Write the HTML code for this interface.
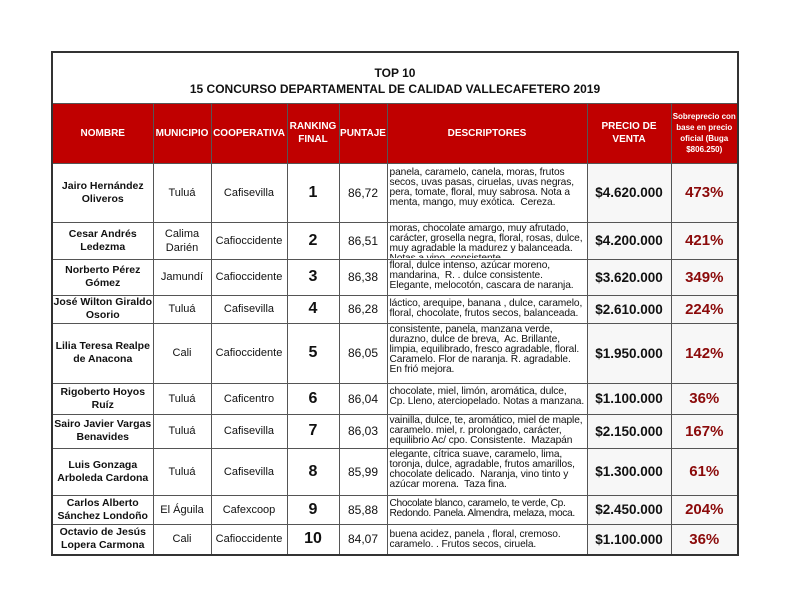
<!DOCTYPE html>
<html><head><meta charset="utf-8"><style>
body{margin:0;background:#fff;width:792px;height:612px;position:relative;font-family:"Liberation Sans",Arial,sans-serif}
table{position:absolute;left:51px;top:51px;border-collapse:collapse;table-layout:fixed;border:2px solid #333}
td{border:1px solid #555;padding:0;text-align:center;vertical-align:middle;overflow:hidden;font-size:11px;font-weight:bold;color:#111}
tr.h td{background:#c00000;color:#fff;font-size:10px;line-height:13px}
td.title{font-size:12px;line-height:16px;border-bottom:1px solid #555;padding-top:6px}
td.n{font-size:10.5px;line-height:13px}
td.m,td.c{font-weight:normal;font-size:11px;line-height:14px}
td.r{font-size:16px}
td.p{font-weight:normal;font-size:12px}
td.d{text-align:left;vertical-align:top;font-weight:normal}
td.d div{box-sizing:border-box;font-size:10.2px;line-height:10px;overflow:hidden;padding:1px 2px;color:#111;letter-spacing:-0.1px}
td.v{font-size:13.5px;background:#f7f7f7}
td.s{font-size:15px;color:#8b0a0a;background:#f7f7f7}
</style></head><body>
<table>
<colgroup><col style="width:101px"><col style="width:58px"><col style="width:76px"><col style="width:52px"><col style="width:48px"><col style="width:200px"><col style="width:84px"><col style="width:67px"></colgroup>
<tr style="height:51px"><td colspan="8" class="title">TOP 10<br>15 CONCURSO DEPARTAMENTAL DE CALIDAD VALLECAFETERO 2019</td></tr>
<tr class="h" style="height:60px"><td>NOMBRE</td><td>MUNICIPIO</td><td>COOPERATIVA</td><td>RANKING<br>FINAL</td><td>PUNTAJE</td><td>DESCRIPTORES</td><td>PRECIO DE<br>VENTA</td><td style="font-size:8px;line-height:11px">Sobreprecio con base en precio oficial (Buga $806.250)</td></tr>
<tr style="height:59px"><td class="n">Jairo Hernández Oliveros</td><td class="m">Tuluá</td><td class="c">Cafisevilla</td><td class="r">1</td><td class="p">86,72</td><td class="d"><div style="height:56px;padding-top:4px">panela, caramelo, canela, moras, frutos secos, uvas pasas, ciruelas, uvas negras, pera, tomate, floral, muy sabrosa. Nota a menta, mango, muy exótica.&nbsp; Cereza.</div></td><td class="v">$4.620.000</td><td class="s">473%</td></tr>
<tr style="height:37px"><td class="n">Cesar Andrés Ledezma</td><td class="m">Calima Darién</td><td class="c">Cafioccidente</td><td class="r">2</td><td class="p">86,51</td><td class="d"><div style="height:35px">moras, chocolate amargo, muy afrutado, carácter, grosella negra, floral, rosas, dulce, muy agradable la madurez y balanceada. Notas a vino, consistente.</div></td><td class="v">$4.200.000</td><td class="s">421%</td></tr>
<tr style="height:36px"><td class="n">Norberto Pérez Gómez</td><td class="m">Jamundí</td><td class="c">Cafioccidente</td><td class="r">3</td><td class="p">86,38</td><td class="d"><div style="height:33px">floral, dulce intenso, azúcar moreno, mandarina,&nbsp; R. . dulce consistente. Elegante, melocotón, cascara de naranja.</div></td><td class="v">$3.620.000</td><td class="s">349%</td></tr>
<tr style="height:28px"><td class="n">José Wilton Giraldo Osorio</td><td class="m">Tuluá</td><td class="c">Cafisevilla</td><td class="r">4</td><td class="p">86,28</td><td class="d"><div style="height:25px;padding-top:3px">láctico, arequipe, banana , dulce, caramelo, floral, chocolate, frutos secos, balanceada.</div></td><td class="v">$2.610.000</td><td class="s">224%</td></tr>
<tr style="height:60px"><td class="n">Lilia Teresa Realpe de Anacona</td><td class="m">Cali</td><td class="c">Cafioccidente</td><td class="r">5</td><td class="p">86,05</td><td class="d"><div style="height:57px">consistente, panela, manzana verde, durazno, dulce de breva,&nbsp; Ac. Brillante, limpia, equilibrado, fresco agradable, floral. Caramelo. Flor de naranja. R. agradable. En frió mejora.</div></td><td class="v">$1.950.000</td><td class="s">142%</td></tr>
<tr style="height:31px"><td class="n">Rigoberto Hoyos Ruíz</td><td class="m">Tuluá</td><td class="c">Caficentro</td><td class="r">6</td><td class="p">86,04</td><td class="d"><div style="height:28px;padding-top:3px">chocolate, miel, limón, aromática, dulce, Cp. Lleno, aterciopelado. Notas a manzana.</div></td><td class="v">$1.100.000</td><td class="s">36%</td></tr>
<tr style="height:34px"><td class="n">Sairo Javier Vargas Benavides</td><td class="m">Tuluá</td><td class="c">Cafisevilla</td><td class="r">7</td><td class="p">86,03</td><td class="d"><div style="height:31px">vainilla, dulce, te, aromático, miel de maple, caramelo. miel, r. prolongado, carácter, equilibrio Ac/ cpo. Consistente.&nbsp; Mazapán</div></td><td class="v">$2.150.000</td><td class="s">167%</td></tr>
<tr style="height:47px"><td class="n">Luis Gonzaga Arboleda Cardona</td><td class="m">Tuluá</td><td class="c">Cafisevilla</td><td class="r">8</td><td class="p">85,99</td><td class="d"><div style="height:44px">elegante, cítrica suave, caramelo, lima, toronja, dulce, agradable, frutos amarillos, chocolate delicado.&nbsp; Naranja, vino tinto y azúcar morena.&nbsp; Taza fina.</div></td><td class="v">$1.300.000</td><td class="s">61%</td></tr>
<tr style="height:29px"><td class="n">Carlos Alberto Sánchez Londoño</td><td class="m">El Águila</td><td class="c">Cafexcoop</td><td class="r">9</td><td class="p">85,88</td><td class="d"><div style="height:26px;padding-top:3px;letter-spacing:-0.35px">Chocolate blanco, caramelo, te verde, Cp. Redondo. Panela. Almendra, melaza, moca.</div></td><td class="v">$2.450.000</td><td class="s">204%</td></tr>
<tr style="height:31px"><td class="n">Octavio de Jesús Lopera Carmona</td><td class="m">Cali</td><td class="c">Cafioccidente</td><td class="r">10</td><td class="p">84,07</td><td class="d"><div style="height:28px;padding-top:5px">buena acidez, panela , floral, cremoso. caramelo. . Frutos secos, ciruela.</div></td><td class="v">$1.100.000</td><td class="s">36%</td></tr>
</table>
</body></html>
